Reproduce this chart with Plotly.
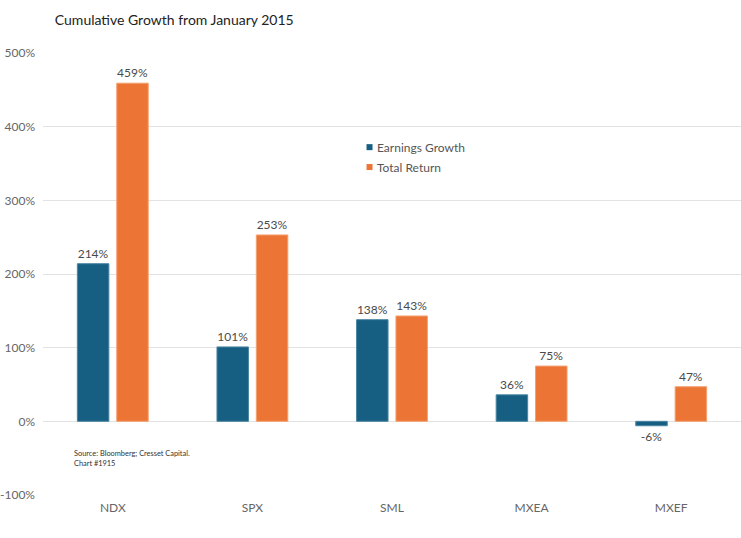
import plotly.graph_objects as go

categories = ["NDX", "SPX", "SML", "MXEA", "MXEF"]
earnings_growth = [214, 101, 138, 36, -6]
total_return = [459, 253, 143, 75, 47]
y_ticks = [-100, 0, 100, 200, 300, 400, 500]
y_tick_labels = ["-100%", "0%", "100%", "200%", "300%", "400%", "500%"]
series_names = ["Earnings Growth", "Total Return"]

BLUE = "#175f82"
ORANGE = "#ec7535"
FONT = "Lato"

fig = go.Figure()
fig.add_trace(go.Bar(
    x=categories, y=earnings_growth, name=series_names[0], showlegend=False,
    marker=dict(color=BLUE, line=dict(color="#4b86a3", width=1)),
    text=[f"{v}%" for v in earnings_growth], textposition="outside",
    textfont=dict(color="#4a4a4a", size=12, family=FONT), cliponaxis=False,
))
fig.add_trace(go.Bar(
    x=categories, y=total_return, name=series_names[1], showlegend=False,
    marker=dict(color=ORANGE, line=dict(color="#f4a070", width=1)),
    text=[f"{v}%" for v in total_return], textposition="outside",
    textfont=dict(color="#4a4a4a", size=12, family=FONT), cliponaxis=False,
))

fig.update_layout(
    width=741, height=538,
    margin=dict(l=43, r=0, t=53, b=43),
    paper_bgcolor="white", plot_bgcolor="white",
    font=dict(family=FONT, color="#555555", size=12),
    barmode="group", bargap=0.436, bargroupgap=0.2,
    showlegend=False,
    title=dict(text="Cumulative Growth from January 2015", x=0.074, xanchor="left",
               y=0.963, yanchor="middle", font=dict(size=14, color="#222222", family=FONT)),
    xaxis=dict(showgrid=False, showline=False, ticks="", tickfont=dict(size=12, color="#666666"),
               ticklabelstandoff=4),
    yaxis=dict(range=[-100, 500], tickvals=y_ticks, ticktext=y_tick_labels,
               showgrid=True, gridcolor="#e3e3e3", gridwidth=1, zeroline=True,
               zerolinecolor="#e3e3e3", zerolinewidth=1, showline=False,
               tickfont=dict(size=12, color="#666666"), ticks="", ticklabelstandoff=7),
)

# Legend drawn as swatches + labels
legend_x = 0.4635  # paper x of swatch left edge
legend_ys = [0.787, 0.742]
for name, color, ly in zip(series_names, [BLUE, ORANGE], legend_ys):
    fig.add_shape(type="rect", xref="paper", yref="paper",
                  x0=legend_x, x1=legend_x + 0.0086, y0=ly - 0.0068, y1=ly + 0.0068,
                  fillcolor=color, line=dict(width=0))
    fig.add_annotation(text=name, xref="paper", yref="paper", x=legend_x + 0.0115, y=ly,
                       xanchor="left", yanchor="middle", showarrow=False,
                       font=dict(size=12, color="#555555", family=FONT))

fig.add_annotation(
    text="Source: Bloomberg; Cresset Capital.<br>Chart #1915",
    xref="paper", yref="paper", x=0.041, y=0.108, xanchor="left", yanchor="top",
    showarrow=False, align="left", font=dict(size=7.4, color="#333333", family=FONT),
)

fig.write_html("out.html")
